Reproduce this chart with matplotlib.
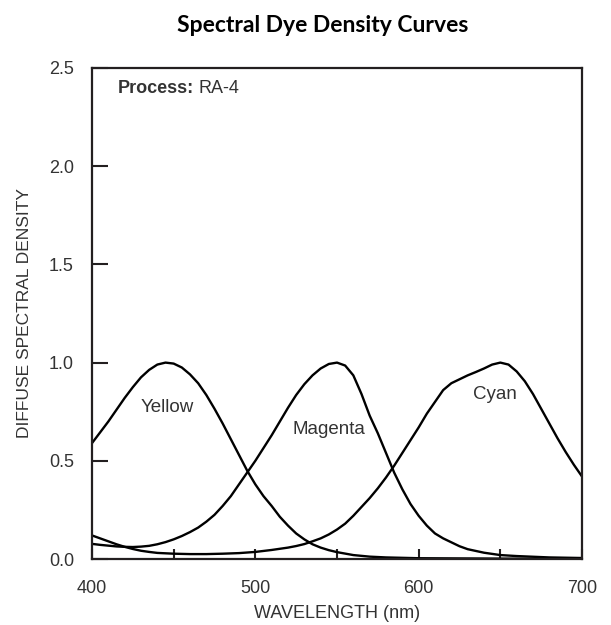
import matplotlib
matplotlib.use("Agg")
import matplotlib.pyplot as plt
from matplotlib.ticker import MultipleLocator

plt.rcParams['font.family'] = ['Liberation Sans', 'DejaVu Sans']

# values
yellow_nm = [400, 405, 410, 415, 420, 425, 430, 435, 440, 445, 450, 455, 460,
             465, 470, 475, 480, 485, 490, 495, 500, 505, 510, 515, 520, 525,
             530, 535, 540, 545, 550, 560, 570, 580, 600, 650, 700]
yellow = [0.59, 0.645, 0.70, 0.76, 0.82, 0.875, 0.925, 0.963, 0.99, 1.0, 0.995,
          0.975, 0.94, 0.895, 0.835, 0.765, 0.69, 0.61, 0.53, 0.45, 0.38, 0.32,
          0.27, 0.215, 0.17, 0.13, 0.10, 0.075, 0.058, 0.045, 0.035, 0.02, 0.012,
          0.008, 0.004, 0.002, 0.001]

magenta_nm = [400, 405, 410, 415, 420, 425, 430, 435, 440, 445, 450, 455, 460,
              465, 470, 475, 480, 485, 490, 495, 500, 505, 510, 515, 520, 525,
              530, 535, 540, 545, 550, 555, 560, 565, 570, 575, 580, 585, 590,
              595, 600, 605, 610, 615, 620, 625, 630, 640, 650, 660, 680, 700]
magenta = [0.077, 0.072, 0.068, 0.064, 0.062, 0.061, 0.063, 0.067, 0.075, 0.086,
           0.10, 0.117, 0.137, 0.16, 0.19, 0.225, 0.27, 0.32, 0.38, 0.44, 0.50,
           0.565, 0.63, 0.70, 0.77, 0.835, 0.89, 0.935, 0.97, 0.993, 1.0, 0.985,
           0.935, 0.84, 0.73, 0.64, 0.54, 0.44, 0.355, 0.28, 0.22, 0.17, 0.13,
           0.105, 0.085, 0.065, 0.05, 0.032, 0.02, 0.015, 0.008, 0.005]

cyan_nm = [400, 405, 410, 415, 420, 425, 430, 435, 440, 450, 460, 470, 480, 490,
           500, 510, 520, 525, 530, 535, 540, 545, 550, 555, 560, 565, 570, 575,
           580, 585, 590, 595, 600, 605, 610, 615, 620, 625, 630, 635, 640, 645,
           650, 655, 660, 665, 670, 675, 680, 685, 690, 695, 700]
cyan = [0.12, 0.105, 0.09, 0.075, 0.062, 0.051, 0.042, 0.036, 0.031, 0.027, 0.025,
        0.025, 0.027, 0.03, 0.036, 0.046, 0.058, 0.066, 0.076, 0.09, 0.105, 0.125,
        0.15, 0.18, 0.22, 0.265, 0.31, 0.36, 0.415, 0.475, 0.54, 0.605, 0.67,
        0.74, 0.80, 0.86, 0.895, 0.915, 0.935, 0.952, 0.97, 0.99, 1.0, 0.99,
        0.955, 0.905, 0.84, 0.765, 0.69, 0.615, 0.545, 0.48, 0.42]

labels = ["Yellow", "Magenta", "Cyan"]
label_pos = [(446, 0.77), (545, 0.66), (647, 0.84)]

txt = '#333333'
fig = plt.figure(figsize=(6.11, 6.25), dpi=100)
ax = fig.add_axes([92/611, 66/625, 490/611, 491/625])

for xs, ys in [(yellow_nm, yellow), (magenta_nm, magenta), (cyan_nm, cyan)]:
    ax.plot(xs, ys, color='black', lw=1.7, solid_joinstyle='round')

for lab, (px, py) in zip(labels, label_pos):
    ax.text(px, py, lab, ha='center', va='center', fontsize=13.5, color=txt)

t1 = ax.text(416, 2.395, "Process:", ha='left', va='center', fontsize=13,
             fontweight='bold', color=txt)
ax.annotate("RA-4", xy=(1, 0.5), xycoords=t1, xytext=(3, 0),
            textcoords='offset points', ha='left', va='center', fontsize=13,
            color=txt)

ax.set_xlim(400, 700)
ax.set_ylim(0, 2.5)
ax.xaxis.set_major_locator(MultipleLocator(100))
ax.xaxis.set_minor_locator(MultipleLocator(50))
ax.yaxis.set_major_locator(MultipleLocator(0.5))
ax.yaxis.set_major_formatter(plt.FuncFormatter(lambda v, p: f"{v:.1f}"))

ax.tick_params(axis='x', which='both', direction='in', length=7.5, width=1.5,
               color='#231f20', labelsize=13, labelcolor=txt, pad=15, top=False)
ax.tick_params(axis='y', which='both', direction='in', length=11.5, width=1.5,
               color='#231f20', labelsize=13, labelcolor=txt, pad=13, right=False)

for s in ax.spines.values():
    s.set_linewidth(1.6)
    s.set_color('#231f20')

ax.set_xlabel("WAVELENGTH (nm)", fontsize=13, color=txt, labelpad=6)
ax.set_ylabel("DIFFUSE SPECTRAL DENSITY", fontsize=12.5, color=txt, labelpad=12)

fig.text(323/611, 1 - 25/625, "Spectral Dye Density Curves", ha='center',
         va='center', fontsize=16.5, fontweight='bold', family=['Lato', 'DejaVu Sans'])

fig.savefig("out.png", dpi=100)
